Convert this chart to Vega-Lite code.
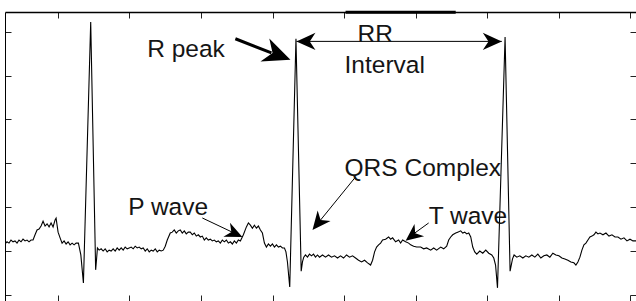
{
  "$schema": "https://vega.github.io/schema/vega-lite/v6.json",
  "width": 631,
  "height": 289,
  "autosize": "none",
  "padding": {"left": 5, "top": 12, "right": 0, "bottom": 0},
  "background": "white",
  "config": {
    "view": {"stroke": null},
    "axis": {"labels": false, "title": null, "grid": false, "tickSize": -6, "tickColor": "#222", "tickWidth": 1, "domainColor": "#000", "domainWidth": 1}
  },
  "datasets": {
    "ecg": [
      {"sample": 26, "adc": 1016}, {"sample": 28.8, "adc": 1021}, {"sample": 31.6, "adc": 1018}, {"sample": 34.4, "adc": 1025},
      {"sample": 37.2, "adc": 1021}, {"sample": 40, "adc": 1023}, {"sample": 42.8, "adc": 1018}, {"sample": 45.6, "adc": 1025},
      {"sample": 48.4, "adc": 1021}, {"sample": 51.2, "adc": 1027}, {"sample": 54, "adc": 1023}, {"sample": 56.8, "adc": 1025},
      {"sample": 59.6, "adc": 1021}, {"sample": 62.4, "adc": 1025}, {"sample": 65.2, "adc": 1025}, {"sample": 68, "adc": 1037},
      {"sample": 70.8, "adc": 1048}, {"sample": 73.6, "adc": 1050}, {"sample": 76.4, "adc": 1057}, {"sample": 79.2, "adc": 1068},
      {"sample": 82, "adc": 1057}, {"sample": 84.8, "adc": 1062}, {"sample": 87.6, "adc": 1055}, {"sample": 90.4, "adc": 1064},
      {"sample": 93.2, "adc": 1055}, {"sample": 96, "adc": 1071}, {"sample": 97.4, "adc": 1075}, {"sample": 98.8, "adc": 1059},
      {"sample": 100.2, "adc": 1043}, {"sample": 103, "adc": 1030}, {"sample": 105.8, "adc": 1018}, {"sample": 108.6, "adc": 1023},
      {"sample": 111.4, "adc": 1016}, {"sample": 114.2, "adc": 1021}, {"sample": 117, "adc": 1014}, {"sample": 119.8, "adc": 1018},
      {"sample": 122.6, "adc": 1014}, {"sample": 125.4, "adc": 1018}, {"sample": 128.6, "adc": 1018}, {"sample": 132, "adc": 991},
      {"sample": 135.6, "adc": 927}, {"sample": 145.8, "adc": 1522}, {"sample": 152.7, "adc": 957}, {"sample": 154.1, "adc": 984},
      {"sample": 155.2, "adc": 1007}, {"sample": 157.6, "adc": 1002}, {"sample": 160.4, "adc": 1005}, {"sample": 163.2, "adc": 1000},
      {"sample": 166, "adc": 1005}, {"sample": 168.8, "adc": 998}, {"sample": 171.6, "adc": 1002}, {"sample": 174.4, "adc": 1000},
      {"sample": 177.2, "adc": 1005}, {"sample": 180, "adc": 1000}, {"sample": 182.8, "adc": 1007}, {"sample": 185.6, "adc": 1002},
      {"sample": 188.4, "adc": 1007}, {"sample": 191.2, "adc": 1002}, {"sample": 194, "adc": 1009}, {"sample": 196.8, "adc": 1005},
      {"sample": 199.6, "adc": 1007}, {"sample": 202.4, "adc": 1009}, {"sample": 205.2, "adc": 1005}, {"sample": 208, "adc": 1011},
      {"sample": 210.8, "adc": 1007}, {"sample": 213.6, "adc": 1009}, {"sample": 216.4, "adc": 1005}, {"sample": 219.2, "adc": 1007},
      {"sample": 222, "adc": 1000}, {"sample": 224.8, "adc": 1005}, {"sample": 227.6, "adc": 998}, {"sample": 230.4, "adc": 1002},
      {"sample": 233.2, "adc": 1000}, {"sample": 236, "adc": 1005}, {"sample": 238.8, "adc": 998}, {"sample": 241.6, "adc": 1002},
      {"sample": 244.4, "adc": 1000}, {"sample": 247.2, "adc": 1002}, {"sample": 250, "adc": 1011}, {"sample": 252.8, "adc": 1025},
      {"sample": 257, "adc": 1041}, {"sample": 259.8, "adc": 1043}, {"sample": 262.6, "adc": 1048}, {"sample": 265.4, "adc": 1041},
      {"sample": 268.2, "adc": 1046}, {"sample": 271, "adc": 1048}, {"sample": 273.8, "adc": 1041}, {"sample": 276.6, "adc": 1046},
      {"sample": 279.4, "adc": 1039}, {"sample": 282.2, "adc": 1043}, {"sample": 285, "adc": 1043}, {"sample": 287.8, "adc": 1037},
      {"sample": 290.6, "adc": 1041}, {"sample": 293.4, "adc": 1034}, {"sample": 296.2, "adc": 1037}, {"sample": 299, "adc": 1032},
      {"sample": 301.8, "adc": 1034}, {"sample": 304.6, "adc": 1025}, {"sample": 307.4, "adc": 1030}, {"sample": 310.2, "adc": 1025},
      {"sample": 313, "adc": 1027}, {"sample": 315.8, "adc": 1023}, {"sample": 318.6, "adc": 1025}, {"sample": 321.4, "adc": 1021},
      {"sample": 324.2, "adc": 1023}, {"sample": 327, "adc": 1018}, {"sample": 329.8, "adc": 1025}, {"sample": 332.6, "adc": 1021},
      {"sample": 335.4, "adc": 1025}, {"sample": 338.2, "adc": 1018}, {"sample": 341, "adc": 1021}, {"sample": 343.8, "adc": 1016},
      {"sample": 346.6, "adc": 1023}, {"sample": 349.4, "adc": 1018}, {"sample": 352.2, "adc": 1025}, {"sample": 355, "adc": 1023},
      {"sample": 359.2, "adc": 1037}, {"sample": 363.4, "adc": 1055}, {"sample": 366.2, "adc": 1064}, {"sample": 369, "adc": 1059},
      {"sample": 371.8, "adc": 1052}, {"sample": 374.6, "adc": 1059}, {"sample": 377.4, "adc": 1052}, {"sample": 380.2, "adc": 1057},
      {"sample": 383, "adc": 1048}, {"sample": 385.8, "adc": 1041}, {"sample": 388.6, "adc": 1018}, {"sample": 391.4, "adc": 1009},
      {"sample": 394.2, "adc": 1016}, {"sample": 397, "adc": 1011}, {"sample": 399.8, "adc": 1016}, {"sample": 402.6, "adc": 1009},
      {"sample": 405.4, "adc": 1014}, {"sample": 408.2, "adc": 1009}, {"sample": 411, "adc": 1011}, {"sample": 413.8, "adc": 1007},
      {"sample": 416.6, "adc": 1007}, {"sample": 418.7, "adc": 998}, {"sample": 420.8, "adc": 975}, {"sample": 424, "adc": 918},
      {"sample": 432.7, "adc": 1484}, {"sample": 440, "adc": 954}, {"sample": 441.8, "adc": 975}, {"sample": 443.6, "adc": 986},
      {"sample": 446, "adc": 991}, {"sample": 448.8, "adc": 986}, {"sample": 451.6, "adc": 993}, {"sample": 454.4, "adc": 989},
      {"sample": 457.2, "adc": 993}, {"sample": 460, "adc": 986}, {"sample": 462.8, "adc": 991}, {"sample": 465.6, "adc": 986},
      {"sample": 469.8, "adc": 991}, {"sample": 474, "adc": 986}, {"sample": 478.2, "adc": 991}, {"sample": 482.4, "adc": 986},
      {"sample": 486.6, "adc": 989}, {"sample": 490.8, "adc": 984}, {"sample": 495, "adc": 989}, {"sample": 499.2, "adc": 984},
      {"sample": 503.4, "adc": 991}, {"sample": 507.6, "adc": 986}, {"sample": 511.8, "adc": 989}, {"sample": 516, "adc": 984},
      {"sample": 520.2, "adc": 979}, {"sample": 524.4, "adc": 975}, {"sample": 528.6, "adc": 979}, {"sample": 532.8, "adc": 973},
      {"sample": 537, "adc": 968}, {"sample": 539.8, "adc": 979}, {"sample": 542.6, "adc": 998}, {"sample": 545.4, "adc": 1009},
      {"sample": 548.2, "adc": 1014}, {"sample": 551, "adc": 1018}, {"sample": 553.8, "adc": 1025}, {"sample": 558, "adc": 1027},
      {"sample": 562.2, "adc": 1032}, {"sample": 565, "adc": 1027}, {"sample": 567.8, "adc": 1030}, {"sample": 572, "adc": 1021},
      {"sample": 576.2, "adc": 1025}, {"sample": 579, "adc": 1018}, {"sample": 581.8, "adc": 1025}, {"sample": 586, "adc": 1021},
      {"sample": 590.2, "adc": 1018}, {"sample": 593, "adc": 1014}, {"sample": 597.2, "adc": 1011}, {"sample": 601.4, "adc": 1009},
      {"sample": 607, "adc": 1009}, {"sample": 611.2, "adc": 1005}, {"sample": 615.4, "adc": 1007}, {"sample": 621, "adc": 1002},
      {"sample": 625.2, "adc": 1007}, {"sample": 629.4, "adc": 1002}, {"sample": 635, "adc": 1009}, {"sample": 639.2, "adc": 1005},
      {"sample": 643.4, "adc": 1011}, {"sample": 646.2, "adc": 1025}, {"sample": 649, "adc": 1032}, {"sample": 651.8, "adc": 1037},
      {"sample": 656, "adc": 1041}, {"sample": 658.8, "adc": 1043}, {"sample": 663, "adc": 1046}, {"sample": 665.8, "adc": 1041},
      {"sample": 668.6, "adc": 1043}, {"sample": 671.4, "adc": 1039}, {"sample": 674.2, "adc": 1041}, {"sample": 677, "adc": 1032},
      {"sample": 679.8, "adc": 1009}, {"sample": 682.6, "adc": 998}, {"sample": 685.4, "adc": 993}, {"sample": 689.6, "adc": 1000},
      {"sample": 693.8, "adc": 995}, {"sample": 698, "adc": 1002}, {"sample": 702.2, "adc": 995}, {"sample": 706.4, "adc": 991},
      {"sample": 709.2, "adc": 984}, {"sample": 711.7, "adc": 968}, {"sample": 714.4, "adc": 916}, {"sample": 725, "adc": 1488},
      {"sample": 732, "adc": 954}, {"sample": 735.4, "adc": 982}, {"sample": 737.6, "adc": 991}, {"sample": 741.4, "adc": 986},
      {"sample": 745.6, "adc": 989}, {"sample": 749.8, "adc": 984}, {"sample": 754, "adc": 989}, {"sample": 758.2, "adc": 986},
      {"sample": 762.4, "adc": 991}, {"sample": 766.6, "adc": 986}, {"sample": 770.8, "adc": 993}, {"sample": 775, "adc": 984},
      {"sample": 779.2, "adc": 989}, {"sample": 783.4, "adc": 991}, {"sample": 787.6, "adc": 986}, {"sample": 791.8, "adc": 995},
      {"sample": 796, "adc": 991}, {"sample": 800.2, "adc": 989}, {"sample": 804.4, "adc": 984}, {"sample": 808.6, "adc": 982},
      {"sample": 812.8, "adc": 979}, {"sample": 817, "adc": 975}, {"sample": 821.2, "adc": 973}, {"sample": 824, "adc": 968},
      {"sample": 826.8, "adc": 975}, {"sample": 829.6, "adc": 986}, {"sample": 832.4, "adc": 1002}, {"sample": 835.2, "adc": 1014},
      {"sample": 838, "adc": 1018}, {"sample": 840.8, "adc": 1025}, {"sample": 843.6, "adc": 1032}, {"sample": 846.4, "adc": 1034},
      {"sample": 849.2, "adc": 1037}, {"sample": 852, "adc": 1043}, {"sample": 854.8, "adc": 1039}, {"sample": 857.6, "adc": 1041},
      {"sample": 861.8, "adc": 1037}, {"sample": 866, "adc": 1041}, {"sample": 870.2, "adc": 1034}, {"sample": 874.4, "adc": 1037},
      {"sample": 878.6, "adc": 1032}, {"sample": 882.8, "adc": 1032}, {"sample": 887, "adc": 1027}, {"sample": 891.2, "adc": 1030},
      {"sample": 895.4, "adc": 1023}, {"sample": 899.6, "adc": 1027}, {"sample": 903.8, "adc": 1023}, {"sample": 908, "adc": 1023}
    ],
    "shafts": [
      {"x0": 348, "y0": 1484, "x1": 398.4, "y1": 1451.8, "w": 3},
      {"x0": 433.4, "y0": 1478, "x1": 720.4, "y1": 1478, "w": 1},
      {"x0": 301.8, "y0": 1075.3, "x1": 345.2, "y1": 1041.8, "w": 1},
      {"x0": 516, "y0": 1168.8, "x1": 464.6, "y1": 1065.7, "w": 1},
      {"x0": 618.2, "y0": 1063.9, "x1": 597.1, "y1": 1039, "w": 1},
      {"x0": 502, "y0": 1544.5, "x1": 656, "y1": 1544.5, "w": 3}
    ],
    "heads": [
      {"x": 425, "y": 1436, "ang": 111, "sz": 750},
      {"x": 433.4, "y": 1478, "ang": 270, "sz": 361},
      {"x": 720.4, "y": 1478, "ang": 90, "sz": 361},
      {"x": 357.8, "y": 1031.9, "ang": 115, "sz": 300},
      {"x": 455.8, "y": 1047.9, "ang": 219, "sz": 340},
      {"x": 586, "y": 1023.5, "ang": 232, "sz": 300}
    ],
    "labels": [
      {"x": 224.8, "y": 1442.6, "text": "R peak"},
      {"x": 518.8, "y": 1476.9, "text": "RR"},
      {"x": 500.6, "y": 1406.1, "text": "Interval"},
      {"x": 500.6, "y": 1171.1, "text": "QRS Complex"},
      {"x": 198.2, "y": 1082.1, "text": "P wave"},
      {"x": 618.2, "y": 1061.6, "text": "T wave"}
    ]
  },
  "layer": [
    {
      "data": {"name": "ecg"},
      "mark": {"type": "line", "color": "#000", "strokeWidth": 1.1, "clip": true},
      "encoding": {
        "x": {"field": "sample", "type": "quantitative", "scale": {"domain": [26, 908], "nice": false, "zero": false},
              "axis": {"orient": "bottom", "domain": false, "values": [100, 200, 300, 400, 500, 600, 700, 800, 900]}},
        "y": {"field": "adc", "type": "quantitative", "scale": {"domain": [886, 1545], "nice": false, "zero": false},
              "axis": {"orient": "left", "domain": true, "values": [900, 1000, 1100, 1200, 1300, 1400, 1500]}}
      }
    },
    {
      "data": {"name": "shafts"},
      "mark": {"type": "rule", "color": "#000"},
      "encoding": {
        "x": {"field": "x0", "type": "quantitative", "scale": {"domain": [26, 908], "nice": false, "zero": false},
              "axis": {"orient": "top", "domain": true, "domainWidth": 1.5, "values": [100, 200, 300, 400, 500, 600, 700, 800, 900]}},
        "y": {"field": "y0", "type": "quantitative", "scale": {"domain": [886, 1545], "nice": false, "zero": false},
              "axis": {"orient": "right", "domain": false, "values": [900, 1000, 1100, 1200, 1300, 1400, 1500]}},
        "x2": {"field": "x1"},
        "y2": {"field": "y1"},
        "strokeWidth": {"field": "w", "type": "quantitative", "scale": null}
      }
    },
    {
      "data": {"name": "heads"},
      "mark": {"type": "point", "shape": "M0,0 L0.9,2 L0,1.4 L-0.9,2 Z", "filled": true, "color": "#000", "opacity": 1, "strokeWidth": 0},
      "encoding": {
        "x": {"field": "x", "type": "quantitative", "scale": {"domain": [26, 908], "nice": false, "zero": false}, "axis": null},
        "y": {"field": "y", "type": "quantitative", "scale": {"domain": [886, 1545], "nice": false, "zero": false}, "axis": null},
        "angle": {"field": "ang", "type": "quantitative", "scale": null},
        "size": {"field": "sz", "type": "quantitative", "scale": null}
      }
    },
    {
      "data": {"name": "labels"},
      "mark": {"type": "text", "align": "left", "baseline": "alphabetic", "font": "Liberation Sans", "fontSize": 24.5, "color": "#151515"},
      "encoding": {
        "x": {"field": "x", "type": "quantitative", "scale": {"domain": [26, 908], "nice": false, "zero": false}, "axis": null},
        "y": {"field": "y", "type": "quantitative", "scale": {"domain": [886, 1545], "nice": false, "zero": false}, "axis": null},
        "text": {"field": "text", "type": "nominal"}
      }
    }
  ],
  "resolve": {"axis": {"x": "independent", "y": "independent"}}
}
